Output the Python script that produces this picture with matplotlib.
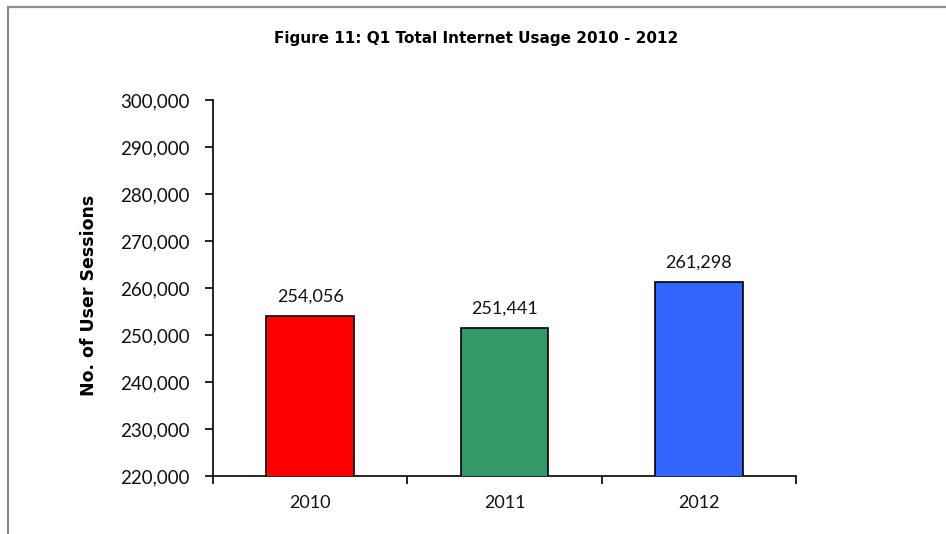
import matplotlib
matplotlib.use("Agg")
import matplotlib.pyplot as plt
from matplotlib.patches import Rectangle
from matplotlib.ticker import FuncFormatter, MultipleLocator

years = ["2010", "2011", "2012"]
sessions = [254056, 251441, 261298]
bar_colors = ["#FF0000", "#339966", "#3366FF"]

plt.rcParams['font.family'] = ['Lato', 'DejaVu Sans']

fig = plt.figure(figsize=(9.46, 5.34), dpi=100)
ax = fig.add_axes([213 / 946, 1 - 476 / 534, 583 / 946, 376 / 534])

# outer frame (only top and left edges show)
fig.patches.append(Rectangle((8 / 946, -0.2), 1.5, 1.2 - 7 / 534,
                             transform=fig.transFigure, fill=False,
                             edgecolor="#8c8c8c", linewidth=1.6))

x = range(len(years))
bars = ax.bar(x, sessions, width=0.45, color=bar_colors,
              edgecolor="black", linewidth=1.2, zorder=3)

for xi, v in zip(x, sessions):
    ax.annotate(f"{v:,}", (xi, v), xytext=(0, 8), textcoords="offset points",
                ha="center", va="bottom", fontsize=13, color="#111111")

ax.set_ylim(220000, 300000)
ax.set_xlim(-0.5, 2.5)
ax.yaxis.set_major_locator(MultipleLocator(10000))
ax.yaxis.set_major_formatter(FuncFormatter(lambda v, p: f"{int(v):,}"))
ax.set_xticks(list(x))
ax.set_xticklabels(years)
ax.set_xticks([-0.5, 0.5, 1.5, 2.5], minor=True)

ax.tick_params(axis="y", direction="out", length=6, width=1.2, labelsize=13.5,
               pad=11, colors="black", labelcolor="#111111")
ax.tick_params(axis="x", which="major", length=0, labelsize=13, pad=14,
               labelcolor="#111111")
ax.tick_params(axis="x", which="minor", direction="out", length=6, width=1.2)

for side in ["top", "right"]:
    ax.spines[side].set_visible(False)
for side in ["left", "bottom"]:
    ax.spines[side].set_linewidth(1.2)

ax.set_ylabel("No. of User Sessions", fontsize=12.5, fontweight="bold",
              family="DejaVu Sans")
ax.yaxis.set_label_coords(-0.198, 0.48)

fig.text(476 / 946, 1 - 38 / 534, "Figure 11: Q1 Total Internet Usage 2010 - 2012",
         ha="center", va="center", fontsize=11, fontweight="bold",
         family="DejaVu Sans")

fig.savefig("out.png", dpi=100, facecolor="white")
